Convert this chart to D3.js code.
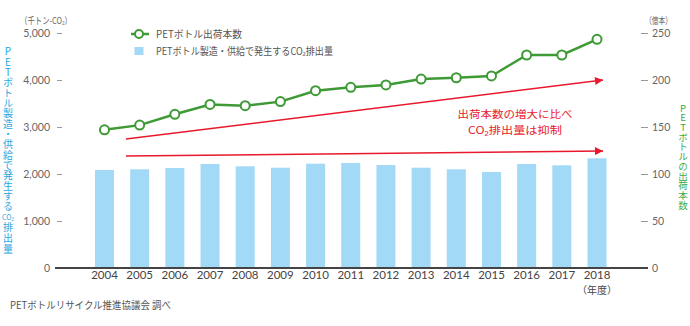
<!DOCTYPE html>
<html><head><meta charset="utf-8">
<script src="https://cdn.jsdelivr.net/npm/d3@7"></script>
<style>
html,body{margin:0;padding:0;background:#fff;}
svg{display:block;font-family:"Noto Sans CJK JP","Noto Sans",sans-serif;}
.vt{writing-mode:vertical-rl;text-orientation:upright;}
</style></head>
<body><svg id="c" width="690" height="326"></svg>
<script>
// ---- data ----
const years = ["2004","2005","2006","2007","2008","2009","2010","2011","2012","2013","2014","2015","2016","2017","2018"];
const co2 = [2085,2100,2128,2213,2164,2134,2219,2234,2191,2134,2100,2043,2213,2185,2334];
const bottles = [147,152,163.5,174,172.7,177,188.6,192.2,194.7,201,202.4,204.3,226.6,226.6,243.3];
const leftTicks = [0,1000,2000,3000,4000,5000];
const rightTicks = [0,50,100,150,200,250];
const leftTitle = ["P","E","T","ボ","ト","ル","製","造","・","供","給","で","発","生","す","る","CO₂","排","出","量"];
const rightTitle = ["P","E","T","ボ","ト","ル","の","出","荷","本","数"];
const legendLabels = ["PETボトル出荷本数","PETボトル製造・供給で発生するCO₂排出量"];
const noteLines = ["出荷本数の増大に比べ","CO₂排出量は抑制"];
// arrows in data units: [yearPos, rightAxisValue]
const arrowUpper = [[2004.61,137.2],[2018.17,200]];
const arrowLower = [[2004.61,119.1],[2018.17,124.5]];

const svg = d3.select("#c");
const blue = "#a2d9f6", green = "#3d9a35", red = "#e8192c";
const x = d3.scaleBand().domain(years).range([86.9,614.6]).paddingInner(0.46).paddingOuter(0.23);
const xc = d => x(d) + x.bandwidth()/2;
const xLin = d3.scaleLinear().domain([2004,2018]).range([xc("2004"), xc("2018")]);
const yL = d3.scaleLinear().domain([0,5000]).range([268,33]);
const yR = d3.scaleLinear().domain([0,250]).range([268,33]);

// bars
svg.append("g").selectAll("rect").data(years).join("rect")
  .attr("x", d => x(d)).attr("width", x.bandwidth())
  .attr("y", (d,i) => yL(co2[i])).attr("height", (d,i) => yL(0)-yL(co2[i]))
  .attr("fill", blue);

// left axis
const la = svg.append("g").attr("transform","translate(62,0)")
  .call(d3.axisLeft(yL).tickValues(leftTicks).tickFormat(d3.format(",")).tickSize(5).tickPadding(7));
la.select(".domain").remove();
la.selectAll("line").attr("stroke","#999");
la.selectAll("text").attr("fill","#666").style("font-size","10.5px").style("font-family","Lato");
// right axis
const ra = svg.append("g").attr("transform","translate(641,0)")
  .call(d3.axisRight(yR).tickValues(rightTicks).tickSize(7).tickPadding(4));
ra.select(".domain").remove();
ra.selectAll("line").attr("stroke","#999");
ra.selectAll("text").attr("fill","#666").style("font-size","10.5px").style("font-family","Lato");

// baseline
svg.append("line").attr("x1",55).attr("x2",648).attr("y1",yL(0)).attr("y2",yL(0))
  .attr("stroke","#444").attr("stroke-width",2);

// x labels
svg.append("g").selectAll("text").data(years).join("text")
  .attr("x", d => xc(d)).attr("y", 279).attr("text-anchor","middle")
  .attr("fill","#444").style("font-size","11.5px").style("font-family","Lato").text(d => d);
svg.append("text").attr("x", xc("2018")).attr("y", 294).attr("text-anchor","middle")
  .attr("fill","#444").style("font-size","10px").text("（年度）");

// arrows
const defs = svg.append("defs");
defs.append("marker").attr("id","ah").attr("viewBox","0 0 10 10").attr("refX",10).attr("refY",5)
  .attr("markerWidth",10).attr("markerHeight",8).attr("markerUnits","userSpaceOnUse").attr("orient","auto")
  .append("path").attr("d","M0,0L10,5L0,10Z").attr("fill",red);
[arrowUpper, arrowLower].forEach(a => {
  svg.append("line")
    .attr("x1", xLin(a[0][0])).attr("y1", yR(a[0][1]))
    .attr("x2", xLin(a[1][0])).attr("y2", yR(a[1][1]))
    .attr("stroke", red).attr("stroke-width",1.5).attr("marker-end","url(#ah)");
});

// line
const line = d3.line().x((d,i) => xc(years[i])).y(d => yR(d));
svg.append("path").datum(bottles).attr("d", line).attr("fill","none")
  .attr("stroke", green).attr("stroke-width",2.5);
svg.append("g").selectAll("circle").data(bottles).join("circle")
  .attr("cx",(d,i) => xc(years[i])).attr("cy", d => yR(d)).attr("r",4.5)
  .attr("fill","#fff").attr("stroke",green).attr("stroke-width",2);

// note
const noteW = [115, 94];
svg.append("g").selectAll("text").data(noteLines).join("text")
  .attr("x",515).attr("y",(d,i) => 118 + i*15.6).attr("text-anchor","middle")
  .attr("textLength",(d,i) => noteW[i]).attr("lengthAdjust","spacingAndGlyphs")
  .attr("fill",red).style("font-size","10.6px").text(d => d);

// legend
const lg = svg.append("g");
const legW = [86, 177];
lg.append("line").attr("x1",131).attr("x2",149).attr("y1",34).attr("y2",34).attr("stroke",green).attr("stroke-width",2.5);
lg.append("circle").attr("cx",139).attr("cy",34).attr("r",4).attr("fill","#fff").attr("stroke",green).attr("stroke-width",2);
lg.append("rect").attr("x",134.5).attr("y",47).attr("width",9).attr("height",8).attr("fill",blue);
lg.selectAll("text.l").data(legendLabels).join("text").attr("class","l")
  .attr("x",156).attr("y",(d,i) => 37.5 + i*17)
  .attr("textLength",(d,i) => legW[i]).attr("lengthAdjust","spacingAndGlyphs")
  .attr("fill","#555").style("font-size","10px").text(d => d);

// units
svg.append("text").attr("x",20).attr("y",23.5).attr("fill","#666").style("font-size","9.5px")
  .attr("textLength",52).attr("lengthAdjust","spacingAndGlyphs").text("（千トン-CO₂）");
svg.append("text").attr("x",645).attr("y",23.5).attr("fill","#666").style("font-size","9.5px")
  .attr("textLength",27).attr("lengthAdjust","spacingAndGlyphs").text("（億本）");

// vertical titles (one text per character)
const ltc = "#2ba6e1";
const leftY = (d,i) => i < 16 ? 51.7 + i*10.33 : (i === 16 ? 216.5 : 227 + (i-17)*11);
svg.append("g").selectAll("text").data(leftTitle).join("text")
  .attr("class", d => d === "CO₂" ? null : "vt")
  .attr("x", 8)
  .attr("y", (d,i) => d === "CO₂" ? leftY(d,i) : leftY(d,i) - 5)
  .attr("text-anchor", d => d === "CO₂" ? "middle" : null)
  .attr("dominant-baseline", d => d === "CO₂" ? "central" : null)
  .attr("fill", ltc).style("font-size", d => d === "CO₂" ? "7px" : "10px").text(d => d);
svg.append("g").selectAll("text").data(rightTitle).join("text")
  .attr("class","vt").attr("x",683).attr("y",(d,i) => 103.3 + i*9.7)
  .attr("fill","#3aaa4a").style("font-size","9.5px").text(d => d);

// source
svg.append("text").attr("x",10).attr("y",309).attr("fill","#555").style("font-size","10px")
  .attr("textLength",161).attr("lengthAdjust","spacingAndGlyphs")
  .text("PETボトルリサイクル推進協議会 調べ");
</script></body></html>
